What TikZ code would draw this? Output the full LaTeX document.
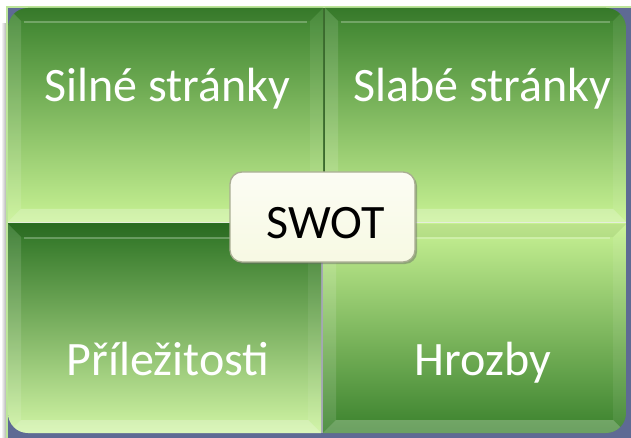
\documentclass[tikz,border=0pt]{standalone}
\usepackage{fontspec}
\setmainfont{Carlito}
\usetikzlibrary{shadows}

\definecolor{slate}{HTML}{5E6A94}
\definecolor{rimgreen}{HTML}{BDE59A}
\definecolor{gdark}{HTML}{3A812D}
\definecolor{gdeep}{HTML}{2C7223}
\definecolor{gmid}{HTML}{94BE72}
\definecolor{glight}{HTML}{C8F294}
\definecolor{creamfill}{HTML}{F7F9E3}
\definecolor{creamedge}{HTML}{A9AD92}
\definecolor{seamdark}{HTML}{3B6A2E}
\definecolor{seamlight}{HTML}{E6EEDC}
\definecolor{seamgray}{HTML}{A4A8B4}

\tikzset{
  quadlabel/.style={text=white, anchor=base, inner sep=0pt,
    font=\fontsize{48}{52}\selectfont},
  bvtop/.style={fill=black, fill opacity=.06},
  bvleft/.style={fill=white, fill opacity=.12},
  bvright/.style={fill=white, fill opacity=.07},
  bvbottom/.style={fill=white, fill opacity=.25},
  bvhigh/.style={draw=white, draw opacity=.25, line width=1.2pt},
  seam/.style={line width=2.2pt},
  swotbox/.style={draw=creamedge, line width=1.3pt, rounded corners=12pt,
    top color=white!60!creamfill, bottom color=creamfill,
    minimum width=185pt, minimum height=90pt, inner sep=0pt,
    drop shadow={shadow xshift=2pt, shadow yshift=-2pt, opacity=.45, fill=black!60}},
  swotlabel/.style={text=black, anchor=base, inner sep=0pt,
    font=\fontsize{48}{52}\selectfont}
}

% bevel bands of a quadrant panel: #1,#2 = upper left, #3,#4 = lower right
\newcommand\bevelbands[4]{%
  \fill[bvtop] (#1,#2) -- (#3,#2) -- ({#3-13},{#2+13}) -- ({#1+13},{#2+13}) -- cycle;
  \fill[bvleft] (#1,#2) -- ({#1+13},{#2+13}) -- ({#1+13},{#4-13}) -- (#1,#4) -- cycle;
  \fill[bvright] (#3,#2) -- (#3,#4) -- ({#3-13},{#4-13}) -- ({#3-13},{#2+13}) -- cycle;
  \fill[bvbottom] (#1,#4) -- ({#1+13},{#4-13}) -- ({#3-13},{#4-13}) -- (#3,#4) -- cycle;
  \draw[bvhigh] ({#1+16},{#2+14}) -- ({#3-16},{#2+14});
}

\begin{document}
\begin{tikzpicture}[x=1pt,y=-1pt]
\useasboundingbox (0,0) rectangle (631,438);

% backdrop and its rim
\shade[left color=white, right color=black!35] (1,24) rectangle (7,438);
\fill[slate] (7,7) rectangle (631,438);

% seams between the fields
\draw[seam, seamdark] (324,8) -- (324,223);
\draw[seam, seamlight] (8,223) -- (626,223);
\draw[seam, seamgray] (322,223) -- (322,433);

\draw[rimgreen, line width=1.2pt] (7,438) -- (7,7) -- (631,7);

% upper left: strengths
\begin{scope}
  \clip[rounded corners=20pt] (8,8) rectangle (380,280);
  \shade[top color=gdark, middle color=gmid, bottom color=glight] (8,8) rectangle (323,222);
  \bevelbands{8}{8}{323}{222}
\end{scope}

% upper right: weaknesses
\begin{scope}
  \clip[rounded corners=20pt] (270,8) rectangle (626,280);
  \shade[top color=gdark, middle color=gmid, bottom color=glight] (325,8) rectangle (626,222);
  \bevelbands{325}{8}{626}{222}
\end{scope}

% lower left: opportunities
\begin{scope}
  \clip[rounded corners=20pt] (8,170) rectangle (380,433);
  \shade[top color=gdeep, middle color=gmid!90!glight, bottom color=glight!85!white] (8,224) rectangle (321,433);
  \bevelbands{8}{224}{321}{433}
\end{scope}

% lower right: threats
\begin{scope}
  \clip[rounded corners=20pt] (270,170) rectangle (626,433);
  \shade[top color=glight, middle color=gmid, bottom color=gdark] (323,224) rectangle (626,433);
  \bevelbands{323}{224}{626}{433}
\end{scope}

% labels of the four fields
\node[quadlabel] (strengths) at (167.5,102) {Silné stránky};
\node[quadlabel] (weaknesses) at (482,102) {Slabé stránky};
\node[quadlabel] (opportunities) at (168,375) {Příležitosti};
\node[quadlabel] (threats) at (483,375) {Hrozby};

% central box
\node[swotbox] (swot) at (322.5,217) {};
\node[swotlabel] (swottitle) at (325.5,239) {SWOT};
\end{tikzpicture}
\end{document}
